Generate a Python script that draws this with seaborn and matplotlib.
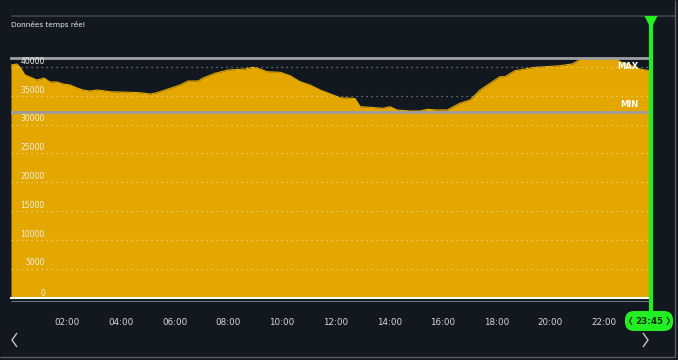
import matplotlib
matplotlib.use('Agg')
import matplotlib.pyplot as plt
import seaborn as sns
import pandas as pd
from matplotlib.lines import Line2D
from matplotlib.patches import Polygon, FancyBboxPatch
from matplotlib.transforms import blended_transform_factory, IdentityTransform

# ---------------- data ----------------
hours = [-0.1, 0.12, 0.23, 0.42, 0.61, 0.87, 1.13, 1.35, 1.61, 1.84, 2.1, 2.36, 2.58, 2.84,
         3.1, 3.33, 3.59, 3.96, 4.33, 4.71, 5.08, 5.34, 5.64, 6.2, 6.5, 6.87, 7.06, 7.5,
         7.99, 8.62, 8.92, 9.18, 9.44, 9.93, 10.3, 10.67, 11.04, 11.42, 11.9, 12.16, 12.61,
         12.72, 12.91, 13.28, 13.76, 14.02, 14.29, 14.77, 15.14, 15.4, 15.78, 16.15, 16.63,
         17.01, 17.38, 17.75, 18.12, 18.31, 18.68, 19.06, 19.43, 19.8, 20.36, 20.81, 21.03,
         21.22, 22.3, 22.6, 22.98, 23.34, 23.75]
values = [40350, 40520, 40000, 38610, 38260, 37740, 38090, 37400, 37400, 37050, 36880, 36360,
          36010, 35830, 36010, 35890, 35710, 35660, 35610, 35540, 35310, 35540, 36010, 36880,
          37570, 37570, 38090, 38910, 39480, 39650, 39950, 39650, 39180, 39080, 38490, 37450,
          36880, 36010, 35140, 34670, 34570, 34530, 33110, 33010, 32830, 33110, 32540, 32360,
          32360, 32660, 32540, 32540, 33700, 34270, 36010, 37170, 38320, 38320, 39360, 39650,
          39950, 40050, 40230, 40520, 41090, 42000, 42000, 40920, 40350, 39650, 39310]
x_ticks = [2, 4, 6, 8, 10, 12, 14, 16, 18, 20, 22]
x_tick_labels = ["02:00", "04:00", "06:00", "08:00", "10:00", "12:00", "14:00",
                 "16:00", "18:00", "20:00", "22:00"]
y_ticks = [0, 5000, 10000, 15000, 20000, 25000, 30000, 35000, 40000]
y_top = 41650
max_level = 40170
min_level = 32190
title = "Données temps réel"
cursor_label = "23:45"

# ---------------- style ----------------
sns.set_theme(style='dark')
plt.rcParams['font.family'] = ['DejaVu Sans']

BG = '#111820'
FILL = '#e3a700'
GREEN = '#22ee22'
W, H = 678, 360


def px(x, y):
    return (x / W, 1 - y / H)


fig = plt.figure(figsize=(W / 100, H / 100), dpi=100, facecolor=BG)
ax = fig.add_axes([11 / W, 1 - 297.5 / H, 640 / W, 240 / H])
ax.set_facecolor(BG)

df = pd.DataFrame({'h': hours, 'v': values})
ax.fill_between(df['h'], df['v'], 0, color=FILL, lw=0, zorder=1)
sns.lineplot(data=df, x='h', y='v', ax=ax, color=FILL, lw=0.8, zorder=2)

ax.set_xlim(-0.1, 23.75)
ax.set_ylim(0, y_top)
ax.set_xlabel('')
ax.set_ylabel('')
ax.grid(False)

# dotted gridlines
for g in y_ticks[1:]:
    ax.axhline(g, color='white', alpha=0.5, lw=0.9, ls=(0, (1, 3)), zorder=3)

# min line
ax.axhline(min_level, color='#9c9c9c', lw=2, zorder=4)

# y labels inside plot
trans = blended_transform_factory(ax.transAxes, ax.transData)
for g in y_ticks:
    ax.text(0.053, g + 1000 if g else 750, f"{g}", transform=trans, ha='right', va='center',
            fontsize=5.5, color='#f2f2f2', zorder=5)
ax.set_yticks([])

# x ticks
ax.set_xticks(x_ticks)
ax.set_xticklabels(x_tick_labels)
ax.tick_params(axis='x', length=0, pad=15, labelsize=6.3, colors='#d9d9d9')

# MAX / MIN labels
ax.text(0.98, max_level, "MAX", transform=trans, ha='right', va='center', fontsize=6,
        fontweight='bold', color='white', zorder=6)
ax.text(0.98, 33580, "MIN", transform=trans, ha='right', va='center', fontsize=6,
        fontweight='bold', color='white', zorder=6)

# spines
for s in ['left', 'right']:
    ax.spines[s].set_visible(False)
ax.spines['top'].set_color('#a0a0a0')
ax.spines['top'].set_linewidth(2)
ax.spines['bottom'].set_color('white')
ax.spines['bottom'].set_linewidth(1.5)


# extra figure decorations
def fline(xs, ys, color, lw, z=10):
    pts = [px(x, y) for x, y in zip(xs, ys)]
    fig.add_artist(Line2D([p[0] for p in pts], [p[1] for p in pts], color=color, lw=lw,
                          transform=fig.transFigure, zorder=z, solid_capstyle='butt'))


fline([11, 651], [300.5, 300.5], '#6b6f75', 0.8)
fline([11, 675], [16, 16], '#3c4148', 1.3)
fline([675, 675], [0, 357], '#5a5f66', 1.0)
fline([0, 675], [357, 357], '#5a5f66', 1.0)

# cursor
fline([651, 651], [20, 312], GREEN, 3.0, z=11)
fig.add_artist(Polygon([px(644.5, 16), px(657.5, 16), px(651, 29)], closed=True,
                       transform=fig.transFigure, fc=GREEN, ec='none', zorder=12))
# pill in pixel (display) coordinates
fig.add_artist(FancyBboxPatch((625, H - 331), 48, 20,
                              boxstyle='round,pad=0,rounding_size=9',
                              transform=IdentityTransform(), fc=GREEN, ec='none', zorder=12))
fig.text(649.5 / W, 1 - 321 / H, cursor_label, ha='center', va='center', fontsize=6.3,
         fontweight='bold', color='#0d2a0d', zorder=13)
fline([632, 629.5, 632], [317, 321, 325], '#0d2a0d', 0.8, z=13)
fline([667, 669.5, 667], [317, 321, 325], '#0d2a0d', 0.8, z=13)

# chevrons
fline([17, 12, 17], [333, 340, 347], '#c8c8c8', 1.0)
fline([643, 648, 643], [333, 340, 347], '#c8c8c8', 1.0)

fig.text(11 / W, 1 - 24 / H, title, ha='left', va='center', fontsize=5.3, color='#e8e8e8')

fig.savefig('out.png', dpi=100, facecolor=BG)
